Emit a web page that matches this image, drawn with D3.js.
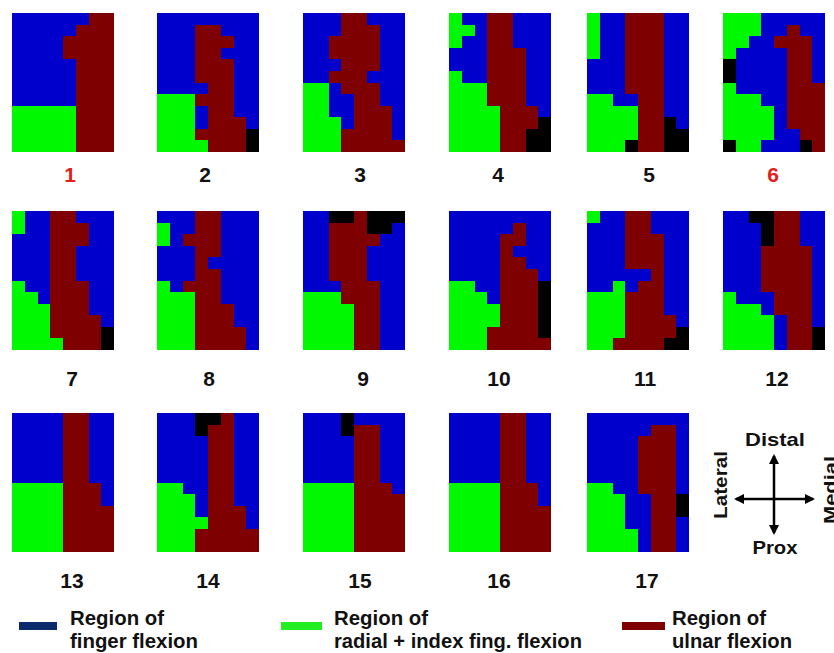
<!DOCTYPE html>
<html>
<head>
<meta charset="utf-8">
<script src="https://cdn.jsdelivr.net/npm/d3@7"></script>
<style>
  html, body { margin: 0; padding: 0; background: #fff; }
  svg { display: block; font-family: "Liberation Sans", Arial, sans-serif; }
</style>
</head>
<body>
<div id="chart"></div>
<script>
// Region maps: 8 columns (lateral -> medial) x 12 rows (distal -> proximal)
// B = finger flexion, G = radial + index fing. flexion, R = ulnar flexion, K = none
const panelIds = ['1','2','3','4','5','6','7','8','9','10','11','12','13','14','15','16','17'];
const highlighted = ['1', '6'];

const map1  = ['BBBBBBRR','BBBBBRRR','BBBBRRRR','BBBBRRRR','BBBBBRRR','BBBBBRRR','BBBBBRRR','BBBBBRRR','GGGGGRRR','GGGGGRRR','GGGGGRRR','GGGGGRRR'];
const map2  = ['BBBBBBBB','BBBRRBBB','BBBRRRBB','BBBRRBBB','BBBRRRBB','BBBRRRBB','BBBBRRBB','GGGRRRBB','GGGBRRBB','GGGBRRRB','GGGRRRRK','GGGGRRRK'];
const map3  = ['BBBRRBBB','BBBRRRBB','BBRRRRBB','BBRRRRBB','BBBRRRBB','BBRRRBBB','GGBRRRBB','GGBBRRBB','GGBBRRRB','GGGBRRRB','GGGRRRRB','GGGRRRRR'];
const map4  = ['GBBRRBBB','GGBRRBBB','GBBRRBBB','BBBRRRBB','BBBRRRBB','GBBRRRBB','GGGRRRBB','GGGRRRBB','GGGGRRRB','GGGGRRRK','GGGGRRKK','GGGGRRKK'];
const map5  = ['GBBRRRBB','GBBRRRBB','GBBRRRBB','GBBRRRBB','BBBRRRBB','BBBRRRBB','BBBRRRBB','GGBBRRBB','GGGGRRBB','GGGGRRKB','GGGGRRKK','GGGKRRKK'];
const map6  = ['GGGBBBBB','GGGBBRBB','GGBBRRRB','GBBBBRRB','KBBBBRRB','KBBBBRRB','GBBBBRRR','GGGBBRRR','GGGGBRRR','GGGGBRRR','GGGGBBRR','KGGBBBKR'];
const map7  = ['GBBRRBBB','GBBRRRBB','BBBRRRBB','BBBRRBBB','BBBRRBBB','BBBRRBBB','GBBRRRBB','GGBRRRBB','GGGRRRBB','GGGRRRRB','GGGRRRRK','GGGGRRRK'];
const map8  = ['BBBRRBBB','GBBRRBBB','GBRRRBBB','BBBRRBBB','BBBRBBBB','BBBRRBBB','GBRRRBBB','GGGRRBBB','GGGRRRBB','GGGRRRBB','GGGRRRRB','GGGRRRRB'];
const map9  = ['BBKKRKKK','BBRRRKKB','BBRRRRBB','BBRRRBBB','BBRRRBBB','BBRRRBBB','BBBRRRBB','GGGRRRBB','GGGGRRBB','GGGGRRBB','GGGGRRBB','GGGGRRBB'];
const map10 = ['BBBBBBBB','BBBBBRBB','BBBBRRBB','BBBBRBBB','BBBBRRBB','BBBBRRRB','GGBBRRRK','GGGBRRRK','GGGGRRRK','GGGGRRRK','GGGRRRRK','GGGRRRRR'];
const map11 = ['GBBRRBBB','BBBRRBBB','BBBRRRBB','BBBRRRBB','BBBRRRBB','BBBBBRBB','BBGBRRBB','GGGRRRBB','GGGRRRBB','GGGRRRRB','GGGRRRRK','GGRRRRKK'];
const map12 = ['BBKKRRBB','BBBKRRBB','BBBKRRBB','BBBRRRRB','BBBRRRRB','BBBRRRRB','BBBRRRRB','GBBBRRRB','GGGBRRRB','GGGGBRRB','GGGGBRRK','GGGGBRRK'];
const map13 = ['BBBBRRBB','BBBBRRBB','BBBBRRBB','BBBBRRBB','BBBBRRBB','BBBBRRBB','GGGGRRRB','GGGGRRRB','GGGGRRRR','GGGGRRRR','GGGGRRRR','GGGGRRRR'];
const map14 = ['BBBKKRBB','BBBKRRBB','BBBBRRBB','BBBBRRBB','BBBBRRBB','BBBBRRBB','GGBBRRBB','GGGBRRBB','GGGBRRRB','GGGGRRRB','GGGRRRRR','GGGRRRRR'];
const map15 = ['BBBKBBBB','BBBKRRBB','BBBBRRBB','BBBBRRBB','BBBBRRBB','BBBBRRBB','GGGGRRRB','GGGGRRRR','GGGGRRRR','GGGGRRRR','GGGGRRRR','GGGGRRRR'];
const map16 = ['BBBBRRBB','BBBBRRBB','BBBBRRBB','BBBBRRBB','BBBBRRBB','BBBBRRBB','GGGGRRRB','GGGGRRRB','GGGGRRRR','GGGGRRRR','GGGGRRRR','GGGGRRRR'];
const map17 = ['BBBBBBBB','BBBBBRRB','BBBBRRRB','BBBBRRRB','BBBBRRRB','BBBBRRRB','GGBBRRRB','GGGBBRRK','GGGBBRRK','GGGBBRRB','GGGGBRRB','GGGGBRRB'];
const maps = [map1, map2, map3, map4, map5, map6, map7, map8, map9, map10, map11, map12, map13, map14, map15, map16, map17];

const regionCodes = ['B', 'G', 'R', 'K'];
const legendLine1 = ['Region of', 'Region of', 'Region of'];
const legendLine2 = ['finger flexion', 'radial + index fing. flexion', 'ulnar flexion'];

const W = 834, H = 653;
const svg = d3.select('#chart').append('svg').attr('width', W).attr('height', H);

const cellColor = d3.scaleOrdinal().domain(regionCodes).range(['#0000cc', '#00f800', '#7f0000', '#000000']);
const legendColor = ['#0b2a6b', '#22ee22', '#7f0000'];

// layout of the 6 x 3 panel grid
const colX = [12, 157, 303, 449, 587, 723];
const rowY = [13, 211, 413];
const labelX = [70, 205, 360, 498, 649, 773, 72, 209, 363, 499, 645, 777, 72, 208, 360, 499, 647];
const labelY = [182, 386, 588];
const pw = 102, ph = 139;

const cx = d3.scaleBand().domain(d3.range(8)).range([0, pw]);
const cy = d3.scaleBand().domain(d3.range(12)).range([0, ph]);

maps.forEach((m, i) => {
  const r = Math.floor(i / 6), c = i % 6;
  const g = svg.append('g').attr('transform', `translate(${colX[c]},${rowY[r]})`);
  const cells = m.flatMap((row, ri) => row.split('').map((v, ci) => ({ ri, ci, v })));
  g.selectAll('rect').data(cells).join('rect')
    .attr('x', d => cx(d.ci)).attr('y', d => cy(d.ri))
    .attr('width', cx.bandwidth() + 0.4).attr('height', cy.bandwidth() + 0.4)
    .attr('fill', d => cellColor(d.v))
    .attr('shape-rendering', 'crispEdges');

  svg.append('text')
    .attr('x', labelX[i]).attr('y', labelY[r])
    .attr('text-anchor', 'middle')
    .attr('font-size', '21px').attr('font-weight', 'bold')
    .attr('fill', highlighted.includes(panelIds[i]) ? '#e3211c' : '#111')
    .text(panelIds[i]);
});

// Orientation cross
const cross = svg.append('g');
const defs = svg.append('defs');
defs.append('marker').attr('id', 'ah')
  .attr('viewBox', '0 0 10 10').attr('refX', 8).attr('refY', 5)
  .attr('markerWidth', 4).attr('markerHeight', 4).attr('orient', 'auto-start-reverse')
  .append('path').attr('d', 'M0,0 L10,5 L0,10 z').attr('fill', '#000');

cross.append('line').attr('x1', 774).attr('x2', 774).attr('y1', 456).attr('y2', 533)
  .attr('stroke', '#000').attr('stroke-width', 2.5)
  .attr('marker-start', 'url(#ah)').attr('marker-end', 'url(#ah)');
cross.append('line').attr('x1', 736).attr('x2', 813).attr('y1', 499).attr('y2', 499)
  .attr('stroke', '#000').attr('stroke-width', 2.5)
  .attr('marker-start', 'url(#ah)').attr('marker-end', 'url(#ah)');

const dirStyle = s => s.attr('font-size', '19px').attr('font-weight', 'bold').attr('fill', '#111');
cross.append('text').attr('x', 775).attr('y', 446).attr('text-anchor', 'middle')
  .attr('textLength', 60).attr('lengthAdjust', 'spacingAndGlyphs').call(dirStyle).text('Distal');
cross.append('text').attr('x', 775).attr('y', 554).attr('text-anchor', 'middle')
  .attr('textLength', 45).attr('lengthAdjust', 'spacingAndGlyphs').call(dirStyle).text('Prox');
cross.append('text').attr('transform', 'translate(727,485) rotate(-90)').attr('text-anchor', 'middle')
  .attr('textLength', 68).attr('lengthAdjust', 'spacingAndGlyphs').call(dirStyle).text('Lateral');
// the reference crops this word at the right edge
cross.append('text').attr('transform', 'translate(837,490) rotate(-90)').attr('text-anchor', 'middle')
  .attr('textLength', 68).attr('lengthAdjust', 'spacingAndGlyphs').call(dirStyle).text('Medial');

// Legend
const legX = [19, 281, 622];
const legW = [38, 41, 43];
const txtX = [70, 334, 672];
const len1 = [94, 94, 94];
const len2 = [128, 248, 120];
legendLine1.forEach((t, i) => {
  svg.append('rect').attr('x', legX[i]).attr('y', 622).attr('width', legW[i]).attr('height', 8)
    .attr('fill', legendColor[i]);
  svg.append('text').attr('x', txtX[i]).attr('y', 625)
    .attr('font-size', '21px').attr('font-weight', 'bold').attr('fill', '#111')
    .attr('textLength', len1[i]).attr('lengthAdjust', 'spacingAndGlyphs').text(t);
  svg.append('text').attr('x', txtX[i]).attr('y', 648)
    .attr('font-size', '21px').attr('font-weight', 'bold').attr('fill', '#111')
    .attr('textLength', len2[i]).attr('lengthAdjust', 'spacingAndGlyphs').text(legendLine2[i]);
});
</script>
</body>
</html>
